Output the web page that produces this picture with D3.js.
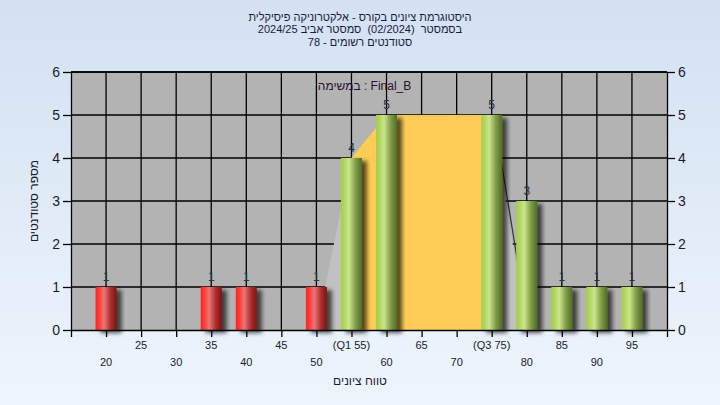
<!DOCTYPE html>
<html>
<head>
<meta charset="utf-8">
<script src="https://cdn.jsdelivr.net/npm/d3@7"></script>
<style>
  html, body { margin: 0; padding: 0; }
  body { width: 720px; height: 405px; overflow: hidden; }
  svg text { font-family: "Liberation Sans", Arial, sans-serif; }
</style>
</head>
<body>
<div id="chart"></div>
<script>
// data
var titleLines = [
    "היסטוגרמת ציונים בקורס - אלקטרוניקה פיסיקלית",
    "בסמסטר  (02/2024)  סמסטר אביב 2024/25",
    "סטודנטים רשומים - 78"
];
var taskLabel = "במשימה : Final_B";
var yTitle = "מספר סטודנטים";
var xTitle = "טווח ציונים";

var grades = [20, 35, 40, 50, 55, 60, 75, 80, 85, 90, 95];
var counts = [1, 1, 1, 1, 4, 5, 5, 3, 1, 1, 1];
var passGrade = 55;

var q1 = 55, q3 = 75;
// light grey envelope behind the bars (grade, count)
var envGrades = [50, 55, 60, 75, 80];
var envCounts = [0, 4, 5, 5, 0];

var xTicks = [15, 20, 25, 30, 35, 40, 45, 50, 55, 60, 65, 70, 75, 80, 85, 90, 95, 100];
var lowerLabels = [20, 30, 40, 50, 60, 70, 80, 90];
var upperLabels = ["25", "35", "45", "(Q1 55)", "65", "(Q3 75)", "85", "95"];
var upperAt = [25, 35, 45, 55, 65, 75, 85, 95];

var W = 720, H = 405;
var margin = {top: 72, right: 53, bottom: 75, left: 71};
var width = W - margin.left - margin.right,
    height = H - margin.top - margin.bottom;

var svg = d3.select("#chart").append("svg")
    .attr("width", W)
    .attr("height", H);

var defs = svg.append("defs");

var bg = defs.append("linearGradient").attr("id", "bg")
    .attr("x1", 0).attr("y1", 0).attr("x2", 0).attr("y2", 1);
bg.append("stop").attr("offset", "0%").attr("stop-color", "#d3e1f2");
bg.append("stop").attr("offset", "100%").attr("stop-color", "#eef5fd");

function cylinder(id, stops){
    var g = defs.append("linearGradient").attr("id", id)
        .attr("x1", 0).attr("y1", 0).attr("x2", 1).attr("y2", 0);
    stops.forEach(function(s){
        g.append("stop").attr("offset", s[0]).attr("stop-color", s[1]);
    });
}
cylinder("red", [["0%", "#ff2424"], ["18%", "#ff3a3a"], ["40%", "#e87878"], ["70%", "#b03030"], ["100%", "#7a1414"]]);
cylinder("green", [["0%", "#a5cf4e"], ["15%", "#aed65a"], ["38%", "#cbe58f"], ["70%", "#7f9c48"], ["100%", "#506c26"]]);

var shadow = defs.append("filter").attr("id", "shadow")
    .attr("x", "-20%").attr("y", "-20%").attr("width", "160%").attr("height", "140%");
shadow.append("feDropShadow")
    .attr("dx", 5).attr("dy", 3).attr("stdDeviation", 2.2)
    .attr("flood-color", "#000").attr("flood-opacity", 0.65);

svg.append("rect").attr("width", W).attr("height", H).attr("fill", "url(#bg)");

// titles
svg.append("g").selectAll("text")
    .data(titleLines)
    .enter().append("text")
    .attr("x", 360)
    .attr("y", function(d, i){ return 20.5 + i * 12.8; })
    .attr("text-anchor", "middle")
    .attr("direction", "rtl")
    .style("white-space", "pre")
    .style("font-size", "11px")
    .attr("fill", "#1a1a3c")
    .text(function(d){ return d; });

var g = svg.append("g")
    .attr("transform", "translate(" + margin.left + "," + margin.top + ")");

var x = d3.scaleLinear().domain([15, 100]).range([0, width]);
var y = d3.scaleLinear().domain([0, 6]).range([height, 0]);

g.append("rect")
    .attr("width", width).attr("height", height)
    .attr("fill", "#b3b3b3");

// grid
g.append("g").selectAll("line")
    .data(xTicks.filter(function(d){ return d > 15 && d < 100; }))
    .enter().append("line")
    .attr("x1", function(d){ return x(d); }).attr("x2", function(d){ return x(d); })
    .attr("y1", 0).attr("y2", height)
    .attr("stroke", "#000").attr("stroke-width", 1.3);
g.append("g").selectAll("line")
    .data(d3.range(1, 7))
    .enter().append("line")
    .attr("x1", 0).attr("x2", width)
    .attr("y1", function(d){ return y(d); }).attr("y2", function(d){ return y(d); })
    .attr("stroke", "#000").attr("stroke-width", 1.3);

// envelope (covers the grid)
var env = envGrades.map(function(v, i){ return [x(v), y(envCounts[i])]; });
g.append("path")
    .attr("d", d3.line()(env) + "Z")
    .attr("fill", "#c1c1c1");
g.append("line")
    .attr("x1", x(envGrades[3]) + 2).attr("y1", y(envCounts[3]))
    .attr("x2", x(envGrades[4]) + 2).attr("y2", y(envCounts[4]))
    .attr("stroke", "#333").attr("stroke-width", 1.2);

// inter-quartile area
var iq = [];
grades.forEach(function(v, i){ if (v >= q1 && v <= q3) iq.push([x(v), y(counts[i])]); });
iq.push([x(q3), y(0)]);
iq.push([x(q1), y(0)]);
g.append("path")
    .attr("d", d3.line()(iq) + "Z")
    .attr("fill", "#ffcc55");

// task label
g.append("text")
    .attr("x", x(50.2))
    .attr("y", 18)
    .style("font-size", "12px")
    .attr("fill", "#2a1030")
    .text(taskLabel);

// bars
var bw = x(18) - x(15);
g.selectAll(".bar")
    .data(grades)
    .enter().append("rect")
    .attr("class", "bar")
    .attr("x", function(d){ return x(d) - bw / 2; })
    .attr("y", function(d, i){ return y(counts[i]); })
    .attr("width", bw)
    .attr("height", function(d, i){ return height - y(counts[i]); })
    .attr("fill", function(d){ return d < passGrade ? "url(#red)" : "url(#green)"; })
    .attr("filter", "url(#shadow)");

g.selectAll(".val")
    .data(grades)
    .enter().append("text")
    .attr("class", "val")
    .attr("x", function(d){ return x(d); })
    .attr("y", function(d, i){ return y(counts[i]) - 6; })
    .attr("text-anchor", "middle")
    .style("font-size", "12px")
    .attr("fill", "#2a3440")
    .text(function(d, i){ return counts[i]; });

// axes
var yl = g.append("g")
    .call(d3.axisLeft(y).ticks(6).tickSize(8).tickSizeOuter(0).tickPadding(3));
var yr = g.append("g")
    .attr("transform", "translate(" + width + ",0)")
    .call(d3.axisRight(y).ticks(6).tickSize(8).tickSizeOuter(0).tickPadding(3));
var xb = g.append("g")
    .attr("transform", "translate(0," + height + ")")
    .call(d3.axisBottom(x).tickValues(xTicks).tickSize(7).tickSizeOuter(0).tickFormat(""));

[yl, yr, xb].forEach(function(a){
    a.selectAll("path, line").attr("stroke", "#000").attr("stroke-width", 1.3);
    a.selectAll("text").style("font-size", "14px").attr("fill", "#1a1a30");
});
g.append("line").attr("x1", 0).attr("x2", width).attr("y1", 0).attr("y2", 0)
    .attr("stroke", "#000").attr("stroke-width", 1.3);

g.append("g").selectAll("text")
    .data(lowerLabels)
    .enter().append("text")
    .attr("x", function(d){ return x(d); })
    .attr("y", height + 36)
    .attr("text-anchor", "middle")
    .style("font-size", "11px")
    .attr("fill", "#1a1a30")
    .text(function(d){ return d; });

g.append("g").selectAll("text")
    .data(upperAt)
    .enter().append("text")
    .attr("x", function(d){ return x(d); })
    .attr("y", height + 19)
    .attr("text-anchor", "middle")
    .style("font-size", "11px")
    .attr("fill", "#1a1a30")
    .text(function(d, i){ return upperLabels[i]; });

// axis titles
svg.append("text")
    .attr("transform", "translate(38," + (margin.top + height / 2) + ") rotate(-90)")
    .attr("text-anchor", "middle")
    .style("font-size", "12px")
    .attr("fill", "#1a1a30")
    .text(yTitle);

svg.append("text")
    .attr("x", 360)
    .attr("y", 385)
    .attr("text-anchor", "middle")
    .style("font-size", "12px")
    .attr("fill", "#1a1a30")
    .text(xTitle);
</script>
</body>
</html>
